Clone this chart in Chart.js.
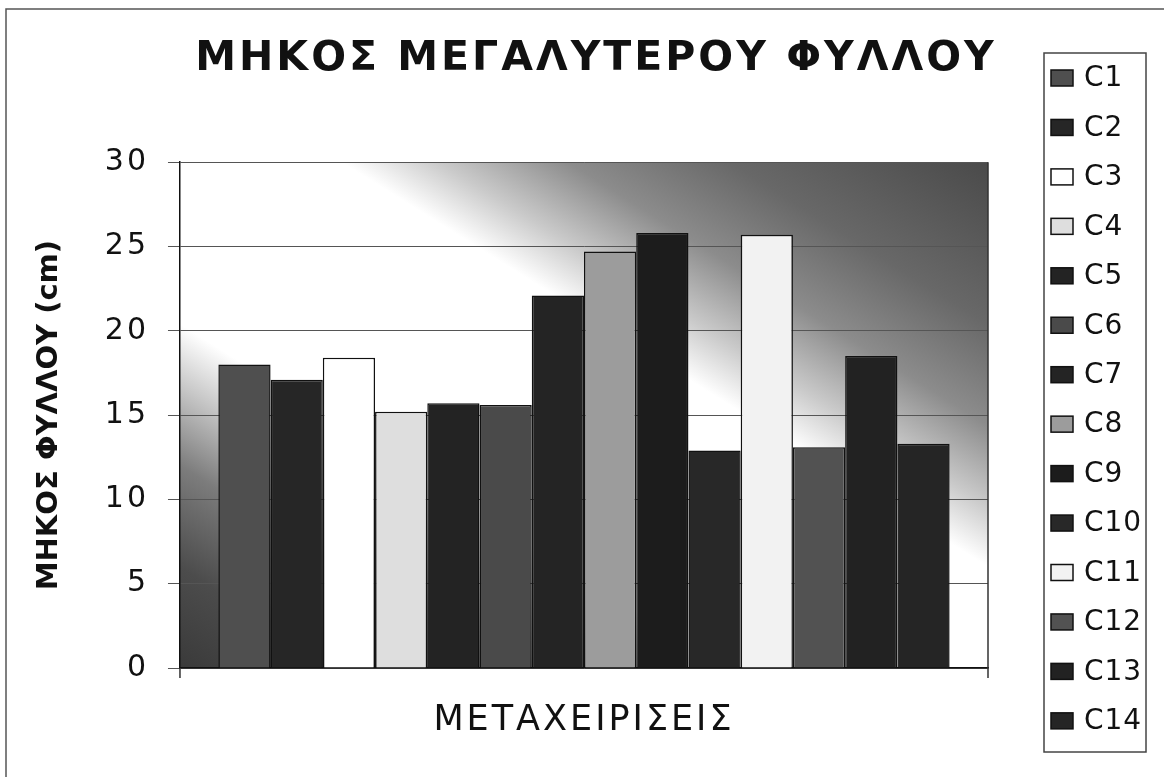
<!DOCTYPE html>
<html>
<head>
<meta charset="utf-8">
<title>ΜΗΚΟΣ ΜΕΓΑΛΥΤΕΡΟΥ ΦΥΛΛΟΥ</title>
<script src="https://cdn.jsdelivr.net/npm/chart.js@4.4.1/dist/chart.umd.min.js"></script>
<style>
	body { margin: 0; background: #fff; }
	#wrap { width: 1164px; height: 777px; }
</style>
</head>
<body>
<div id="wrap"><canvas id="myChart" width="1164" height="777"></canvas></div>
<script>
// data
const categories = [''];
const seriesNames = ['C1', 'C2', 'C3', 'C4', 'C5', 'C6', 'C7', 'C8', 'C9', 'C10', 'C11', 'C12', 'C13', 'C14'];
const seriesValues = [18.0, 17.1, 18.4, 15.2, 15.7, 15.6, 22.1, 24.7, 25.8, 12.9, 25.7, 13.1, 18.5, 13.3];
const seriesColors = ['#4f4f4f', '#262626', '#ffffff', '#dedede', '#232323', '#4a4a4a', '#242424', '#9c9c9c', '#1c1c1c', '#282828', '#f2f2f2', '#525252', '#222222', '#252525'];
const yTicks = [0, 5, 10, 15, 20, 25, 30];

const FONT = "'DejaVu Sans', 'Liberation Sans', Arial, sans-serif";
const SPACING = '3px'; // the scanned chart is stretched sideways, widen the text a bit

// grey diagonal fill behind the bars: dark corners bottom-left / top-right
const plotBackground = {
	id: 'plotBackground',
	beforeDraw(chart) {
		const { ctx, chartArea: a } = chart;
		ctx.save();
		ctx.translate(a.left, a.top);
		ctx.scale(a.width, a.height);
		const g = ctx.createLinearGradient(0, 1, 1, 0);
		g.addColorStop(0, '#3a3a3a');
		g.addColorStop(0.1, '#4c4c4c');
		g.addColorStop(0.2, '#7c7c7c');
		g.addColorStop(0.28, '#c8c8c8');
		g.addColorStop(0.34, '#ffffff');
		g.addColorStop(0.6, '#ffffff');
		g.addColorStop(0.66, '#cacaca');
		g.addColorStop(0.74, '#8c8c8c');
		g.addColorStop(0.84, '#686868');
		g.addColorStop(1, '#4a4a4a');
		ctx.fillStyle = g;
		ctx.fillRect(0, 0, 1, 1);
		ctx.restore();
		ctx.letterSpacing = SPACING;
	}
};

// frame, plot edges and the boxed legend
const frameAndLegend = {
	id: 'frameAndLegend',
	afterInit(chart) {
		const title = chart.titleBlock;
		const draw = title.draw.bind(title);
		title.draw = () => {
			chart.ctx.save();
			chart.ctx.translate(12, 0);
			draw();
			chart.ctx.restore();
		};
	},
	afterUpdate(chart) {
		const y = chart.scales.y;
		if (y._plainTitle) return;
		const drawTitle = y.drawTitle;
		y.drawTitle = function () {
			this.ctx.save();
			this.ctx.letterSpacing = '0px';
			drawTitle.call(this);
			this.ctx.restore();
		};
		y._plainTitle = true;
	},
	afterDraw(chart) {
		const { ctx, chartArea: a } = chart;
		ctx.save();
		ctx.letterSpacing = '0px';
		ctx.strokeStyle = '#555';
		ctx.lineWidth = 1.5;
		ctx.strokeRect(6, 9, 1170, 800);

		ctx.strokeStyle = '#333';
		ctx.beginPath();
		ctx.moveTo(a.right, a.top);
		ctx.lineTo(a.right, a.bottom + 10);
		ctx.moveTo(a.left, a.bottom);
		ctx.lineTo(a.left, a.bottom + 10);
		ctx.stroke();

		ctx.strokeStyle = '#444';
		ctx.strokeRect(1044, 53, 102, 699);

		ctx.letterSpacing = '1px';
		ctx.font = '28px ' + FONT;
		ctx.textBaseline = 'middle';
		ctx.textAlign = 'left';
		chart.data.datasets.forEach((ds, i) => {
			const y = 78 + i * 49.45;
			ctx.fillStyle = ds.backgroundColor;
			ctx.fillRect(1051, y - 8, 22, 16);
			ctx.strokeStyle = '#111';
			ctx.lineWidth = 1.5;
			ctx.strokeRect(1051, y - 8, 22, 16);
			ctx.fillStyle = '#111';
			ctx.fillText(ds.label, 1084, y + 1);
		});
		ctx.restore();
		ctx.letterSpacing = '0px';
	}
};

const datasets = seriesNames.map((name, i) => ({
	label: name,
	data: [seriesValues[i]],
	backgroundColor: seriesColors[i],
	borderColor: '#111',
	borderWidth: 1.5,
	categoryPercentage: 0.905,
	barPercentage: 1
}));

const ctx = document.getElementById('myChart').getContext('2d');
let myChart = new Chart(ctx, {
	type: 'bar',
	data: { labels: categories, datasets: datasets },
	options: {
		responsive: false,
		animation: false,
		layout: { padding: { top: 10, right: 176, bottom: 0, left: 10 } },
		plugins: {
			legend: { display: false },
			tooltip: { enabled: false },
			title: {
				display: true,
				fullSize: false,
				text: 'ΜΗΚΟΣ ΜΕΓΑΛΥΤΕΡΟΥ ΦΥΛΛΟΥ',
				color: '#111',
				font: { family: FONT, size: 41, weight: 'bold' },
				padding: { top: 25, bottom: 78 }
			}
		},
		scales: {
			x: {
				grid: { display: false, drawTicks: false },
				border: { display: true, color: '#111', width: 1.5 },
				ticks: { display: false },
				title: {
					display: true,
					text: 'ΜΕΤΑΧΕΙΡΙΣΕΙΣ',
					color: '#111',
					font: { family: FONT, size: 35 },
					padding: { top: 32, bottom: 35 }
				}
			},
			y: {
				min: yTicks[0],
				max: yTicks[yTicks.length - 1],
				ticks: {
					stepSize: yTicks[1] - yTicks[0],
					color: '#111',
					padding: 19,
					font: { family: FONT, size: 30 }
				},
				grid: { color: '#555', lineWidth: 1, tickLength: 12 },
				border: { display: true, color: '#111', width: 1.5 },
				title: {
					display: true,
					text: 'ΜΗΚΟΣ ΦΥΛΛΟΥ (cm)',
					color: '#111',
					font: { family: FONT, size: 29, weight: 'bold' },
					padding: { top: 22, bottom: 25 }
				}
			}
		}
	},
	plugins: [plotBackground, frameAndLegend]
});
</script>
</body>
</html>
